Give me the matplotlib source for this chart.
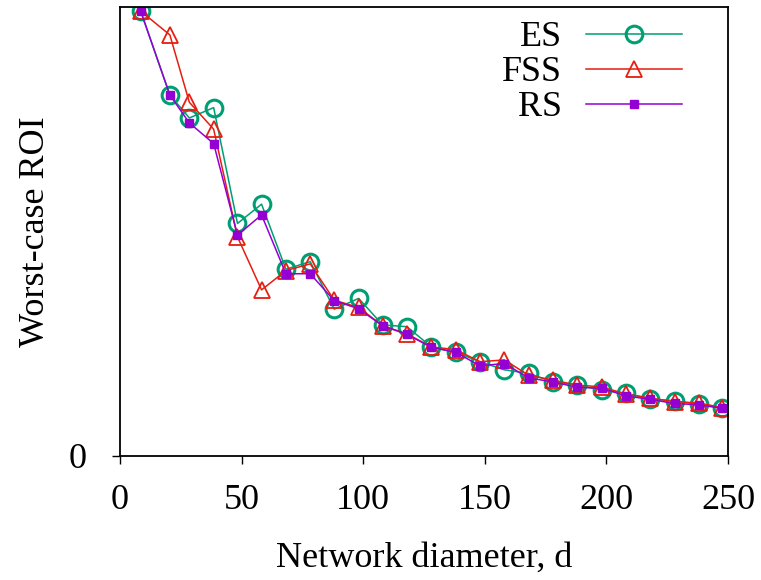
"""
Worst-case ROI against network diameter for ES, FSS and RS.
"""

import matplotlib
matplotlib.use("Agg")
import matplotlib.pyplot as plt

diameters = [8.5, 20.5, 28.5, 38.5, 48.3, 58.2, 68.2, 78.2, 88.1, 98.1,
             108, 118, 128, 138, 148, 158, 168, 178, 188, 198,
             208, 218, 228, 238, 247.5]

es_roi = [0.991, 0.804, 0.753, 0.776, 0.518, 0.561, 0.416, 0.433, 0.327, 0.351,
          0.292, 0.288, 0.243, 0.231, 0.210, 0.192, 0.184, 0.165, 0.158, 0.147,
          0.140, 0.127, 0.123, 0.115, 0.108]

fss_roi = [0.991, 0.938, 0.788, 0.728, 0.488, 0.370, 0.413, 0.428, 0.347, 0.331,
           0.290, 0.272, 0.243, 0.237, 0.210, 0.214, 0.180, 0.169, 0.158, 0.154,
           0.138, 0.129, 0.121, 0.118, 0.108]

rs_roi = [0.991, 0.804, 0.742, 0.696, 0.492, 0.537, 0.406, 0.406, 0.346, 0.328,
          0.290, 0.271, 0.242, 0.231, 0.201, 0.206, 0.174, 0.165, 0.153, 0.151,
          0.134, 0.126, 0.117, 0.114, 0.106]

x_ticks = [0, 50, 100, 150, 200, 250]


def main():
    plt.rcParams["font.family"] = ["Liberation Serif", "DejaVu Serif"]
    plt.rcParams["font.size"] = 26

    fig = plt.figure(figsize=(7.61, 5.8), dpi=100)
    ax = fig.add_axes([0.1577, 0.2138, 0.799, 0.774])

    ax.plot(diameters, es_roi, color="#009e73", lw=1.1, marker="o",
            ms=12, mfc="none", mew=2.2, label="ES")
    ax.plot(diameters, fss_roi, color="#e51e10", lw=1.1, marker="^",
            ms=12, mfc="none", mew=1.3, label="FSS")
    ax.plot(diameters, rs_roi, color="#9400d3", lw=1.1, marker="s",
            ms=6, label="RS")

    ax.set_xlim(0, 250)
    ax.set_ylim(0, 1.0)
    ax.set_xticks(x_ticks)
    ax.set_yticks([0])
    ax.tick_params(direction="out", length=6, width=1, top=False, right=False)
    ax.tick_params(axis="x", pad=14)
    ax.tick_params(axis="y", pad=18)
    for side in ax.spines.values():
        side.set_linewidth(1.3)

    ax.set_xlabel("Network diameter, d", labelpad=18)
    ax.set_ylabel("Worst-case ROI", labelpad=12)

    ax.legend(loc="upper right", bbox_to_anchor=(0.924, 0.969),
              frameon=False, markerfirst=False, borderpad=0,
              borderaxespad=0, handlelength=2.65, handletextpad=0.67,
              labelspacing=0.05)

    fig.savefig("out.png", dpi=100)


if __name__ == "__main__":
    main()
